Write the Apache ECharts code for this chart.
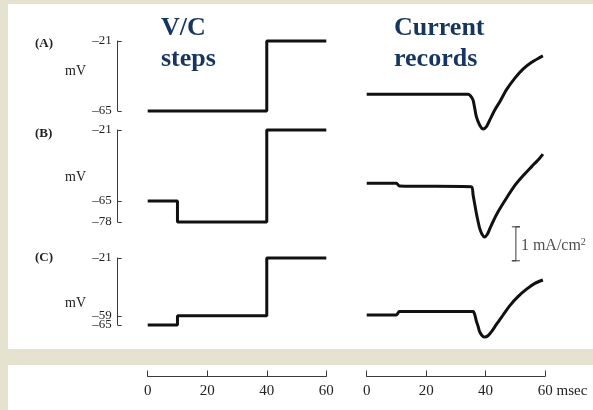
<!DOCTYPE html>
<html>
<head>
<meta charset="utf-8">
<script src="https://cdn.jsdelivr.net/npm/echarts@6/dist/echarts.min.js"></script>
<style>html,body{margin:0;padding:0;}#c{width:593px;height:410px;}</style>
</head>
<body>
<div id="c"></div>
<script>
// ---- Voltage-clamp steps (ms, mV) ----
const vcTimeA = [0, 40, 40, 60];
const vcA     = [-65, -65, -21, -21];
const vcTimeB = [0, 10, 10, 40, 40, 60];
const vcB     = [-65, -65, -78, -78, -21, -21];
const vcTimeC = [0, 10, 10, 40, 40, 60];
const vcC     = [-65, -65, -59, -59, -21, -21];

// ---- Current records (ms, mA/cm^2 relative to holding level) ----
const curTimeA = [0, 10, 34.1, 34.9, 35.8, 36.9, 38.0, 39.2, 40.3, 41.4, 43.1, 44.8, 47.0, 49.8, 52.6, 55.5, 58.2, 59.3];
const curA     = [0, 0, 0, -0.04, -0.17, -0.66, -0.90, -1.02, -0.95, -0.76, -0.46, -0.22, 0.13, 0.47, 0.74, 0.94, 1.08, 1.13];
const curTimeB = [0, 10, 11, 35.2, 35.8, 36.4, 36.9, 37.5, 38.0, 38.8, 39.7, 40.6, 41.4, 42.5, 44.2, 47.0, 49.8, 52.6, 55.5, 58.2, 59.3];
const curB     = [0, 0, -0.08, -0.10, -0.34, -0.64, -0.88, -1.13, -1.32, -1.50, -1.58, -1.50, -1.34, -1.13, -0.84, -0.44, -0.07, 0.22, 0.49, 0.74, 0.86];
const curTimeC = [0, 10, 11, 35.8, 36.4, 36.9, 37.5, 38.0, 38.8, 39.7, 40.8, 42.0, 43.7, 45.9, 48.1, 50.9, 53.8, 56.6, 59.3];
const curC     = [0, 0, 0.1, 0.1, 0.0, -0.18, -0.34, -0.49, -0.60, -0.65, -0.61, -0.49, -0.27, 0, 0.27, 0.54, 0.76, 0.93, 1.03];

// ---- Scale bar (1 mA/cm^2) ----
const scaleTime    = [48.85, 51.55, 50.2, 50.2, 48.85, 51.55];
const scaleCurrent = [-1.28, -1.28, -1.28, -2.28, -2.28, -2.28];

// ---- Axis tick labels ----
const tickA = [-65, -21];
const tickB = [-78, -65, -21];
const tickC = [-59, -21];
const tickC2 = [-65];

const panelLabels = ['(A)', '(B)', '(C)'];
const unitLabel = 'mV';

const SERIF = '"Liberation Serif", "DejaVu Serif", serif';
const NAVY = '#16355f';
const INK = '#111';
const AXC = '#3a3a3a';

function zip(t, v) { return t.map((x, i) => [x, v[i]]); }
const dash = v => (v < 0 ? '\u2013' + Math.abs(v) : String(v));

function vAxis(gi, min, max, ticks, showLine) {
  return {
    gridIndex: gi, type: 'value', min: min, max: max, position: 'left',
    axisLine: { show: showLine !== false, onZero: false, lineStyle: { color: AXC, width: 1 } },
    axisTick: { show: true, inside: true, length: 4, customValues: ticks, lineStyle: { color: AXC } },
    axisLabel: { show: true, customValues: ticks, formatter: dash, margin: 6,
      showMinLabel: true, showMaxLabel: true, hideOverlap: false, lineHeight: 10,
      fontFamily: SERIF, fontSize: 13, color: '#222' },
    splitLine: { show: false }
  };
}
function hiddenY(gi, min, max) {
  return { gridIndex: gi, type: 'value', min: min, max: max, show: false, splitLine: { show: false } };
}
function hiddenX(gi, min) {
  return { gridIndex: gi, type: 'value', min: min, max: 60, show: false, splitLine: { show: false } };
}
function timeAxis(gi, isRight) {
  return {
    gridIndex: gi, type: 'value', min: 0, max: 60, interval: 20, position: 'bottom',
    axisLine: { show: true, onZero: false, lineStyle: { color: AXC, width: 1 } },
    axisTick: { show: true, inside: true, length: 6, lineStyle: { color: AXC } },
    splitLine: { show: false },
    axisLabel: {
      margin: 7, fontFamily: SERIF, fontSize: 15, color: '#222',
      formatter: function (v) { return (isRight && v === 60) ? '{p| }60 msec' : String(v); },
      rich: { p: { width: 35, fontSize: 15, fontFamily: SERIF } }
    }
  };
}
function traceSeries(xi, yi, data, smooth) {
  return {
    type: 'line', xAxisIndex: xi, yAxisIndex: yi, data: data, symbol: 'none',
    smooth: smooth || false, clip: false, silent: true,
    lineStyle: { color: INK, width: 3 }
  };
}

// Voltage grids start at the bracket axis (x=117.7); time 0 sits 30 px to its right.
const axisX = 117.7, leftL = 147.7, leftW = 178.6, rightL = 366.7, rightW = 178.3;
const vMin = -60 * (leftL - axisX) / leftW;

const option = {
  backgroundColor: '#e5e3cf',
  animation: false,
  grid: [
    { left: axisX, width: leftW + (leftL - axisX), top: 41, height: 70 },   // 0 VC A
    { left: axisX, width: leftW + (leftL - axisX), top: 130, height: 92 },  // 1 VC B
    { left: axisX, width: leftW + (leftL - axisX), top: 258, height: 67 },  // 2 VC C
    { left: rightL, width: rightW, top: 43.3, height: 119 },   // 3 I A
    { left: rightL, width: rightW, top: 132.3, height: 136 },  // 4 I B
    { left: rightL, width: rightW, top: 264, height: 119 },    // 5 I C
    { left: leftL, width: leftW, top: 300, height: 76.5 },     // 6 time axis left
    { left: rightL, width: rightW, top: 300, height: 76.5 }    // 7 time axis right
  ],
  xAxis: [hiddenX(0, vMin), hiddenX(1, vMin), hiddenX(2, vMin), hiddenX(3, 0), hiddenX(4, 0), hiddenX(5, 0),
          timeAxis(6, false), timeAxis(7, true)],
  yAxis: [vAxis(0, -65, -21, tickA), vAxis(1, -78, -21, tickB), vAxis(2, -65, -21, tickC),
          hiddenY(3, -2, 1.5), hiddenY(4, -2.5, 1.5), hiddenY(5, -2, 1.5),
          hiddenY(6, 0, 1), hiddenY(7, 0, 1),
          vAxis(2, -65, -21, tickC2, false)],
  series: [
    traceSeries(0, 0, zip(vcTimeA, vcA)),
    traceSeries(1, 1, zip(vcTimeB, vcB)),
    traceSeries(2, 2, zip(vcTimeC, vcC)),
    traceSeries(3, 3, zip(curTimeA, curA), 0.25),
    traceSeries(4, 4, zip(curTimeB, curB), 0.25),
    traceSeries(5, 5, zip(curTimeC, curC), 0.25),
    {
      type: 'line', xAxisIndex: 4, yAxisIndex: 4, data: zip(scaleTime, scaleCurrent),
      symbol: 'none', clip: false, silent: true, lineStyle: { color: AXC, width: 1 }
    },
    {
      type: 'scatter', xAxisIndex: 4, yAxisIndex: 4, symbolSize: 0, silent: true, clip: false,
      data: [[scaleTime[2], (scaleCurrent[2] + scaleCurrent[3]) / 2]],
      label: {
        show: true, position: 'right', distance: 5, offset: [0, 2],
        formatter: '1 mA/cm{s|2}', fontFamily: SERIF, fontSize: 16, color: '#222',
        rich: { s: { fontSize: 10, fontFamily: SERIF, color: '#222', padding: [0, 0, 7, 0] } }
      }
    }
  ],
  graphic: [
    { type: 'rect', z: -10, silent: true, shape: { x: 8, y: 4, width: 585, height: 345 }, style: { fill: '#ffffff' } },
    { type: 'rect', z: -10, silent: true, shape: { x: 8, y: 365, width: 585, height: 45 }, style: { fill: '#ffffff' } },
    { type: 'text', z: 50, left: 161, top: 15, style: { text: 'V/C', font: 'bold 26px ' + SERIF, fill: NAVY } },
    { type: 'text', z: 50, left: 161, top: 46, style: { text: 'steps', font: 'bold 26px ' + SERIF, fill: NAVY } },
    { type: 'text', z: 50, left: 394, top: 15, style: { text: 'Current', font: 'bold 26px ' + SERIF, fill: NAVY } },
    { type: 'text', z: 50, left: 394, top: 46, style: { text: 'records', font: 'bold 26px ' + SERIF, fill: NAVY } },
    { type: 'text', z: 50, left: 35, top: 37, style: { text: panelLabels[0], font: 'bold 13px ' + SERIF, fill: '#222' } },
    { type: 'text', z: 50, left: 35, top: 127, style: { text: panelLabels[1], font: 'bold 13px ' + SERIF, fill: '#222' } },
    { type: 'text', z: 50, left: 35, top: 251, style: { text: panelLabels[2], font: 'bold 13px ' + SERIF, fill: '#222' } },
    { type: 'text', z: 50, left: 65, top: 64, style: { text: unitLabel, font: '14px ' + SERIF, fill: '#222' } },
    { type: 'text', z: 50, left: 65, top: 170, style: { text: unitLabel, font: '14px ' + SERIF, fill: '#222' } },
    { type: 'text', z: 50, left: 65, top: 296, style: { text: unitLabel, font: '14px ' + SERIF, fill: '#222' } }
  ]
};

const chart = echarts.init(document.getElementById('c'), null, { renderer: 'canvas' });
chart.setOption(option);
</script>
</body>
</html>
